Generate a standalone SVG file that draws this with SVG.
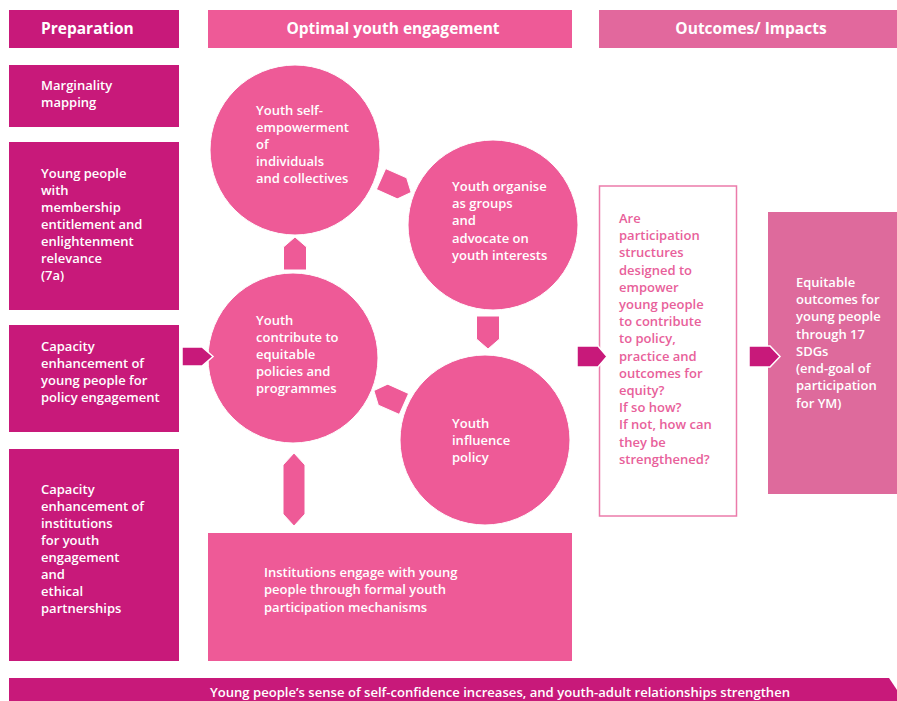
<svg xmlns="http://www.w3.org/2000/svg" width="897" height="701" viewBox="0 0 897 701">
<style>
.t{font-family:"Open Sans","Liberation Sans",sans-serif;font-weight:600;font-size:13px;fill:#fff}
.h{font-family:"Open Sans","Liberation Sans",sans-serif;font-weight:700;font-size:15.5px;fill:#fff}
.q{fill:#E8609A}
.dark{fill:#C8197A}
.pink{fill:#EE5A97}
.circ{fill:#EE5A97;stroke:#fff;stroke-width:1}
.arr{fill:#EE5A97;stroke:#fff;stroke-width:1}
.darr{fill:#C8197A;stroke:#fff;stroke-width:1.5}
</style>
<defs>
<path id="pent" d="M0,-11.5 L23,-11.5 L33,0 L23,11.5 L0,11.5 Z"/>
</defs>
<rect width="897" height="701" fill="#fff"/>

<g id="hdr-prep"><rect class="dark" x="9" y="10" width="170" height="38"/><text class="h" x="41" y="34">Preparation</text></g>
<g id="hdr-opt"><rect class="pink" x="208" y="10" width="364" height="38"/><text class="h" x="393" y="34" text-anchor="middle">Optimal youth engagement</text></g>
<g id="hdr-out"><rect x="599" y="10" width="298" height="38" fill="#E2689D"/><text class="h" x="751" y="34" text-anchor="middle">Outcomes/ Impacts</text></g>

<g id="marginality"><rect class="dark" x="9" y="65" width="170" height="62"/>
<text class="t" x="41" y="90">Marginality</text><text class="t" x="41" y="107">mapping</text></g>

<g id="membership"><rect class="dark" x="9" y="142" width="170" height="168"/>
<text class="t" x="41"><tspan x="41" y="178">Young people</tspan><tspan x="41" y="195">with</tspan><tspan x="41" y="212">membership</tspan><tspan x="41" y="229">entitlement and</tspan><tspan x="41" y="246">enlightenment</tspan><tspan x="41" y="263">relevance</tspan><tspan x="41" y="280">(7a)</tspan></text></g>

<g id="capacity-yp"><rect class="dark" x="9" y="325" width="170" height="107"/>
<text class="t"><tspan x="41" y="351">Capacity</tspan><tspan x="41" y="368">enhancement of</tspan><tspan x="41" y="385">young people for</tspan><tspan x="41" y="402">policy engagement</tspan></text></g>

<g id="capacity-inst"><rect class="dark" x="9" y="449" width="170" height="212"/>
<text class="t"><tspan x="41" y="494">Capacity</tspan><tspan x="41" y="511">enhancement of</tspan><tspan x="41" y="528">institutions</tspan><tspan x="41" y="545">for youth</tspan><tspan x="41" y="562">engagement</tspan><tspan x="41" y="579">and</tspan><tspan x="41" y="596">ethical</tspan><tspan x="41" y="613">partnerships</tspan></text></g>

<g id="self-empowerment"><circle class="circ" cx="295" cy="150" r="85"/>
<text class="t"><tspan x="256" y="115">Youth self-</tspan><tspan x="256" y="132">empowerment</tspan><tspan x="256" y="149">of</tspan><tspan x="256" y="166">individuals</tspan><tspan x="256" y="183">and collectives</tspan></text></g>

<g id="organise"><circle class="circ" cx="493" cy="225" r="85"/>
<text class="t"><tspan x="452" y="191">Youth organise</tspan><tspan x="452" y="208">as groups</tspan><tspan x="452" y="225">and</tspan><tspan x="452" y="243">advocate on</tspan><tspan x="452" y="260">youth interests</tspan></text></g>

<g id="contribute"><circle class="circ" cx="293" cy="358" r="85"/>
<text class="t"><tspan x="256" y="325">Youth</tspan><tspan x="256" y="342">contribute to</tspan><tspan x="256" y="359">equitable</tspan><tspan x="256" y="376">policies and</tspan><tspan x="256" y="393">programmes</tspan></text></g>

<g id="influence"><circle class="circ" cx="485" cy="440" r="85"/>
<text class="t"><tspan x="452" y="428">Youth</tspan><tspan x="452" y="445">influence</tspan><tspan x="452" y="462">policy</tspan></text></g>

<g id="institutions"><rect class="pink" x="208" y="533" width="364" height="128"/>
<text class="t"><tspan x="264" y="577">Institutions engage with young</tspan><tspan x="264" y="594">people through formal youth</tspan><tspan x="264" y="612">participation mechanisms</tspan></text></g>

<g id="question"><rect x="599.5" y="186" width="137" height="330" fill="#fff" stroke="#EB7BAA" stroke-width="1.5"/>
<text class="t q"><tspan x="619" y="223">Are</tspan><tspan x="619" y="240">participation</tspan><tspan x="619" y="257">structures</tspan><tspan x="619" y="275">designed to</tspan><tspan x="619" y="292">empower</tspan><tspan x="619" y="309">young people</tspan><tspan x="619" y="326">to contribute</tspan><tspan x="619" y="343">to policy,</tspan><tspan x="619" y="361">practice and</tspan><tspan x="619" y="378">outcomes for</tspan><tspan x="619" y="395">equity?</tspan><tspan x="619" y="412">If so how?</tspan><tspan x="619" y="429">If not, how can</tspan><tspan x="619" y="447">they be</tspan><tspan x="619" y="464">strengthened?</tspan></text></g>

<g id="equitable"><rect x="768" y="212" width="129" height="282" fill="#DE6A9C"/>
<text class="t"><tspan x="796" y="287">Equitable</tspan><tspan x="796" y="304">outcomes for</tspan><tspan x="796" y="321">young people</tspan><tspan x="796" y="339">through 17</tspan><tspan x="796" y="356">SDGs</tspan><tspan x="796" y="373">(end-goal of</tspan><tspan x="796" y="390">participation</tspan><tspan x="796" y="408">for YM)</tspan></text></g>

<g id="bottom-bar"><polygon class="dark" points="9,678 889,678 897,690 897,701 9,701"/>
<text class="t" x="500" y="697" text-anchor="middle" textLength="580" lengthAdjust="spacingAndGlyphs">Young people’s sense of self-confidence increases, and youth-adult relationships strengthen</text></g>

<g id="connectors">
<use href="#pent" class="arr" transform="translate(295,270) rotate(-90)"/>
<use href="#pent" class="arr" transform="translate(381,179) rotate(24)"/>
<use href="#pent" class="arr" transform="translate(488,316) rotate(90)"/>
<use href="#pent" class="arr" transform="translate(404,404) rotate(204)"/>
<polygon class="arr" points="294,453 305,465 305,514 294,526 283,514 283,465"/>
<polygon class="darr" points="182,347 202,347 213,356.5 202,366 182,366"/>
<polygon class="darr" points="577,346 598,346 607,356.5 598,367 577,367"/>
<polygon class="darr" points="749,346 770,346 780,356.5 770,367 749,367"/>
</g>
</svg>
